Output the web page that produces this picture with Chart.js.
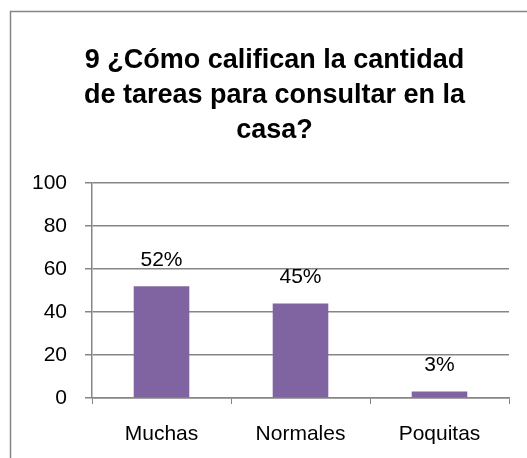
<!DOCTYPE html>
<html>
<head>
<meta charset="utf-8">
<script src="https://cdn.jsdelivr.net/npm/chart.js@4"></script>
<style>
  html, body { margin: 0; padding: 0; background: #fff; overflow: hidden; }
  #wrap { position: absolute; left: 0; top: 0; width: 549px; height: 458px; }
</style>
</head>
<body>
<div id="wrap"><canvas id="chart"></canvas></div>
<script>
const titleLines = ['9 ¿Cómo califican la cantidad', 'de tareas para consultar en la', 'casa?'];
const categories = ['Muchas', 'Normales', 'Poquitas'];
const values = [52, 44, 3];
const valueLabels = ['52%', '45%', '3%'];
const yTicks = [0, 20, 40, 60, 80, 100];

const gray = '#868686';
const barColor = '#8064A2';
const fontFamily = '"Liberation Sans", Arial, sans-serif';

// outer frame of the chart object (runs off the right and bottom of the page)
const framePlugin = {
    id: 'frame',
    beforeDraw(chart) {
        const ctx = chart.ctx;
        ctx.save();
        ctx.strokeStyle = gray;
        ctx.lineWidth = 1.5;
        ctx.strokeRect(10.5, 11.5, 700, 700);
        ctx.restore();
    }
};

// title is centred on the whole chart object, not on the canvas
const titlePlugin = {
    id: 'centredTitle',
    afterDraw(chart) {
        const ctx = chart.ctx;
        ctx.save();
        ctx.fillStyle = '#000';
        ctx.font = 'bold 27px ' + fontFamily;
        ctx.textAlign = 'center';
        ctx.textBaseline = 'middle';
        titleLines.forEach((line, i) => {
            ctx.fillText(line, 274.5, 61 + i * 35);
        });
        ctx.restore();
    }
};

// percentage text above each bar
const valueLabelPlugin = {
    id: 'valueLabels',
    afterDatasetsDraw(chart) {
        const ctx = chart.ctx;
        const meta = chart.getDatasetMeta(0);
        ctx.save();
        ctx.fillStyle = '#000';
        ctx.font = '21px ' + fontFamily;
        ctx.textAlign = 'center';
        ctx.textBaseline = 'middle';
        meta.data.forEach((bar, i) => {
            ctx.fillText(valueLabels[i], bar.x, bar.y - 26);
        });
        ctx.restore();
    }
};

new Chart(document.getElementById('chart'), {
    type: 'bar',
    data: {
        labels: categories,
        datasets: [{
            data: values,
            backgroundColor: barColor,
            borderWidth: 0,
            categoryPercentage: 1,
            barPercentage: 0.4
        }]
    },
    options: {
        responsive: true,
        maintainAspectRatio: false,
        animation: false,
        devicePixelRatio: 1,
        layout: { padding: { left: 0, right: 40, top: 183, bottom: 0 } },
        plugins: {
            legend: { display: false },
            tooltip: { enabled: false },
            title: { display: false }
        },
        scales: {
            x: {
                grid: { display: true, drawOnChartArea: false, drawTicks: true, tickLength: 6, color: gray },
                border: { color: gray, width: 1.5 },
                ticks: {
                    color: '#000',
                    font: { family: fontFamily, size: 21 },
                    padding: 18
                },
                afterFit(scale) { scale.height = 60; }
            },
            y: {
                min: 0,
                max: 100,
                afterBuildTicks(scale) { scale.ticks = yTicks.map(v => ({ value: v })); },
                grid: { color: gray, lineWidth: 1.5, tickLength: 7 },
                border: { color: gray, width: 1.5 },
                ticks: {
                    color: '#000',
                    font: { family: fontFamily, size: 21 },
                    padding: 18
                },
                afterFit(scale) { scale.width = 92; }
            }
        }
    },
    plugins: [framePlugin, titlePlugin, valueLabelPlugin]
});
</script>
</body>
</html>
